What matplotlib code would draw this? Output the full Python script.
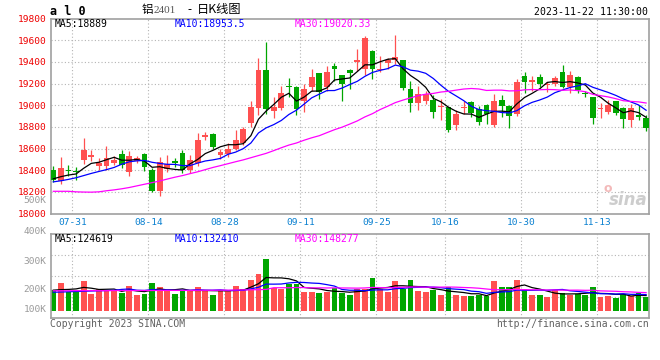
import numpy as np
import pandas as pd
import matplotlib
matplotlib.use('Agg')
import matplotlib.pyplot as plt

# ---------------- data ----------------
holidays = ['2023-09-29', '2023-10-02', '2023-10-03', '2023-10-04', '2023-10-05', '2023-10-06']
dates = [d for d in pd.bdate_range('2023-07-27', '2023-11-22') if d.strftime('%Y-%m-%d') not in holidays]
date_labels = [d.strftime('%m-%d') for d in dates]
shown_dates = ['07-31', '08-14', '08-28', '09-11', '09-25', '10-16', '10-30', '11-13']

opens = [18405, 18300, 18403, 18396, 18490, 18520, 18440, 18440, 18465, 18545,
         18385, 18485, 18545, 18406, 18206, 18408, 18486, 18560, 18400, 18466,
         18703, 18737, 18538, 18550, 18595, 18647, 18833, 18970, 19326, 18945,
         18972, 19180, 19170, 19036, 19170, 19295, 19164, 19362, 19277, 19326,
         19402, 19335, 19500, 19323, 19393, 19414, 19417, 19149, 19018, 19042,
         19051, 18987, 18982, 18815, 18970, 19025, 18967, 18998, 18815, 19051,
         18996, 18915, 19272, 19218, 19260, 19185, 19199, 19310, 19165, 19263,
         19115, 19076, 18963, 18939, 19039, 18978, 18862, 18908, 18884]
highs = [18440, 18520, 18448, 18425, 18700, 18590, 18510, 18620, 18530, 18582,
         18580, 18530, 18555, 18420, 18517, 18539, 18515, 18585, 18539, 18745,
         18752, 18740, 18600, 18652, 18768, 18798, 19036, 19440, 19583, 19079,
         19180, 19247, 19175, 19195, 19332, 19300, 19362, 19387, 19280, 19330,
         19515, 19640, 19505, 19454, 19439, 19650, 19420, 19225, 19180, 19134,
         19094, 19060, 18985, 18960, 19042, 19042, 18990, 19015, 19105, 19090,
         19000, 19245, 19305, 19270, 19286, 19215, 19271, 19368, 19317, 19265,
         19135, 19080, 19021, 19045, 19040, 18980, 19008, 19000, 18908]
lows = [18290, 18268, 18350, 18306, 18460, 18485, 18400, 18405, 18452, 18420,
        18345, 18465, 18395, 18196, 18160, 18387, 18432, 18372, 18372, 18440,
        18680, 18600, 18502, 18524, 18590, 18630, 18798, 18905, 18920, 18881,
        18960, 19073, 18905, 18935, 19134, 19057, 19134, 19225, 19042, 19149,
        19317, 19275, 19241, 19302, 19332, 19378, 19143, 18935, 18960, 19012,
        18881, 18860, 18752, 18768, 18914, 18890, 18815, 18830, 18800, 18890,
        18785, 18900, 19115, 19135, 19165, 19125, 19180, 19155, 19112, 19112,
        19080, 18826, 18878, 18917, 18908, 18792, 18801, 18862, 18765]
closes = [18312, 18420, 18390, 18383, 18583, 18538, 18470, 18508, 18495, 18450,
          18535, 18508, 18430, 18210, 18477, 18457, 18462, 18398, 18498, 18680,
          18728, 18610, 18566, 18592, 18677, 18778, 18980, 19326, 18965, 18981,
          19112, 19164, 18966, 19149, 19256, 19118, 19308, 19332, 19195, 19301,
          19414, 19620, 19332, 19338, 19414, 19445, 19155, 19018, 19103, 19103,
          18935, 18996, 18769, 18915, 18980, 18928, 18845, 18918, 19043, 18990,
          18900, 19210, 19211, 19234, 19199, 19197, 19250, 19165, 19275, 19140,
          19100, 18878, 18975, 19000, 18926, 18870, 18970, 18890, 18785]
volumes = [169, 228, 156, 156, 242, 137, 177, 164, 164, 148,
           202, 129, 137, 228, 193, 164, 137, 169, 164, 193,
           164, 129, 164, 169, 202, 177, 250, 301, 419, 188,
           175, 215, 215, 156, 156, 148, 151, 185, 143, 129,
           175, 175, 268, 175, 156, 242, 175, 250, 161, 153,
           166, 131, 193, 131, 123, 117, 131, 117, 238, 190,
           190, 252, 179, 131, 131, 109, 171, 145, 131, 137,
           130, 196, 115, 123, 107, 137, 121, 143, 115]
volumes = [v * 1000 for v in volumes]

# moving-average values at the left edge (window reaches before the first bar)
ma5_head = [18320, 18340, 18355, 18365]
ma10_head = [18292, 18302, 18315, 18330, 18350, 18370, 18388, 18405, 18425]
ma30_head = [18205, 18205, 18205, 18200, 18198, 18197, 18200, 18210, 18218, 18228,
             18240, 18255, 18270, 18285, 18300, 18318, 18335, 18350, 18368, 18385,
             18405, 18425, 18442, 18460, 18478, 18495, 18515, 18535, 18555]
vma5_head = [168000, 172000, 174000, 178000]
vma10_head = [151000, 153000, 155000, 157000, 159000, 161000, 163000, 165000, 167000]
vma30_head = [163000, 163000, 163000, 164000, 164000, 164000, 164000, 164000, 165000, 165000,
              165000, 165000, 165000, 165000, 166000, 166000, 166000, 166000, 166000, 167000,
              167000, 167000, 168000, 168000, 169000, 170000, 171000, 172000, 174000]

price_labels = {'MA5': '18889', 'MA10': '18953.5', 'MA30': '19020.33'}
vol_labels = {'MA5': '124619', 'MA10': '132410', 'MA30': '148277'}
price_ticks = list(range(18000, 19801, 200))
vol_tick_text = ['500K', '400K', '300K', '200K', '100K']

# ---------------- helpers ----------------
W, H = 660, 360
def fx(x):
    return x / W
def fy(y):
    return 1 - y / H

def ma(values, n, head):
    m = pd.Series(values, dtype=float).rolling(n).mean().to_numpy()
    m[:n - 1] = head
    return m

RED = '#ff5050'
GREEN = '#00a600'
GRID = '#b4b4b4'
SPINE = '#a0a0a0'
MONO = 'DejaVu Sans Mono'

fig = plt.figure(figsize=(6.6, 3.6), dpi=100)
fig.patch.set_facecolor('white')

left_px, right_px = 50.7, 649.3
ax_p = fig.add_axes([fx(left_px), fy(213.5), fx(right_px - left_px), (213.5 - 18.5) / H])
ax_v = fig.add_axes([fx(left_px), fy(318), fx(right_px - left_px), (318 - 234.3) / H])

n = len(closes)
x = np.arange(n)
o = np.array(opens, float); c = np.array(closes, float)
hi = np.array(highs, float); lo = np.array(lows, float)
up = c >= o
cols = [RED if u else GREEN for u in up]

xlim = (-0.34, 78.42)
grid_x = [date_labels.index(d) + 0.5 for d in shown_dates]

# ---------------- price panel ----------------
ax_p.set_xlim(*xlim)
ax_p.set_ylim(18000, 19800)
for yv in price_ticks[1:-1]:
    ax_p.axhline(yv, color=GRID, lw=0.8, ls=(0, (1, 2)), zorder=0)
for gx in grid_x:
    ax_p.axvline(gx, color=GRID, lw=0.8, ls=(0, (1, 2)), zorder=0)

ax_p.vlines(x, lo, hi, colors=cols, lw=0.9, zorder=2)
body_h = np.maximum(np.abs(c - o), 9)
ax_p.bar(x, body_h, bottom=np.minimum(o, c), width=0.78, color=cols, edgecolor=cols, lw=0, zorder=3)

ax_p.plot(x, ma(closes, 5, ma5_head), color='black', lw=0.9, zorder=4)
ax_p.plot(x, ma(closes, 10, ma10_head), color='#0000ff', lw=0.9, zorder=4)
ax_p.plot(x, ma(closes, 30, ma30_head), color='#ff00ff', lw=0.9, zorder=4)

ax_p.set_yticks(price_ticks)
ax_p.set_yticklabels([str(t) for t in price_ticks], color='#ee0000', fontsize=6.8, family=MONO)
ax_p.set_xticks(grid_x)
ax_p.set_xticklabels(shown_dates, color='#0a80d0', fontsize=6.8, family=MONO)
ax_p.tick_params(axis='both', length=0)
ax_p.tick_params(axis='y', pad=3.3)
ax_p.tick_params(axis='x', pad=3.0)

# ---------------- volume panel ----------------
vol = np.array(volumes, float)
ax_v.set_xlim(*xlim)
ax_v.set_ylim(-56400, 618000)
for f in (0.25, 0.5, 0.75):
    ax_v.plot([0, 1], [f, f], transform=ax_v.transAxes, color=GRID, lw=0.8, ls=(0, (1, 2)), zorder=0)
for gx in grid_x:
    ax_v.axvline(gx, color=GRID, lw=0.8, ls=(0, (1, 2)), zorder=0)
ax_v.bar(x, vol, bottom=0, width=0.78, color=cols, lw=0, zorder=2)
ax_v.plot(x, ma(volumes, 5, vma5_head), color='black', lw=0.9, zorder=4)
ax_v.plot(x, ma(volumes, 10, vma10_head), color='#0000ff', lw=0.9, zorder=4)
ax_v.plot(x, ma(volumes, 30, vma30_head), color='#ff00ff', lw=0.9, zorder=4)
ax_v.set_xticks([]); ax_v.set_yticks([])

for ax in (ax_p, ax_v):
    for s in ax.spines.values():
        s.set_color(SPINE)
        s.set_linewidth(1.2)

# ---------------- texts ----------------
# volume axis labels (placed where the chart shows them)
for txt, ypx in zip(vol_tick_text, [200.5, 231, 261, 290, 310]):
    fig.text(fx(46.5), fy(ypx), txt, ha='right', va='center', color='#9a9a9a', fontsize=6.8, family=MONO)

ma_x = [54.3, 175, 295]
ma_c = ['black', '#0000ff', '#ff00ff']
for (k, v), xp, cc in zip(price_labels.items(), ma_x, ma_c):
    fig.text(fx(xp), fy(24), f'{k}:{v}', ha='left', va='center', color=cc, fontsize=7.0, family=MONO)
for (k, v), xp, cc in zip(vol_labels.items(), ma_x, ma_c):
    fig.text(fx(xp), fy(238.5), f'{k}:{v}', ha='left', va='center', color=cc, fontsize=7.0, family=MONO)

fig.text(fx(50), fy(11.5), 'a l 0', ha='left', va='center', color='black', fontsize=8.5,
         family=MONO, weight='bold')
fig.text(fx(141.5), fy(10), '铝', ha='left', va='center', color='black', fontsize=8.3,
         family=['Noto Sans CJK SC', 'DejaVu Sans'])
fig.text(fx(154), fy(10.5), '2401', ha='left', va='center', color='#555555', fontsize=8.0,
         family='Liberation Serif')
fig.text(fx(189.5), fy(10), '-', ha='center', va='center', color='black', fontsize=8.3,
         family=['Noto Sans CJK SC', 'DejaVu Sans'])
fig.text(fx(197), fy(10), '日K线图', ha='left', va='center', color='black', fontsize=8.8,
         family=['Noto Sans CJK SC', 'DejaVu Sans'])
fig.text(fx(648.5), fy(11.7), '2023-11-22 11:30:00', ha='right', va='center', color='black',
         fontsize=7.1, family=MONO)

fig.text(fx(50), fy(324), 'Copyright 2023 SINA.COM', ha='left', va='center', color='#606060',
         fontsize=7.0, family=MONO)
fig.text(fx(649), fy(324), 'http://finance.sina.com.cn', ha='right', va='center', color='#606060',
         fontsize=7.0, family=MONO)

# faint sina watermark
fig.text(fx(648), fy(200), 'sina', ha='right', va='center', color='#cdcdcd', fontsize=12,
         style='italic', weight='bold', family='DejaVu Sans')
fig.text(fx(608), fy(188), 'o', ha='center', va='center', color='#f3b9b9', fontsize=9,
         weight='bold', family='DejaVu Sans')

fig.savefig('out.png', dpi=100, facecolor='white')
